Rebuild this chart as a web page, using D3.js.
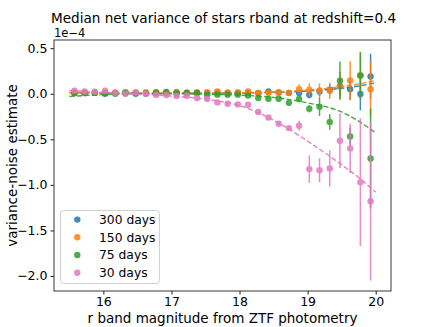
<!DOCTYPE html>
<html><head><meta charset="utf-8">
<script src="https://cdn.jsdelivr.net/npm/d3@7/dist/d3.min.js"></script>
<style>
body{margin:0;background:#fff;}
svg{display:block;font-family:"DejaVu Sans",sans-serif;}
</style></head>
<body><svg id="c" width="436" height="327"></svg>
<script>
const titleText = "Median net variance of stars rband at redshift=0.4";
const xLabel = "r band magnitude from ZTF photometry";
const yLabel = "variance-noise estimate";
const offsetText = "1e\u22124";
const xTicks = [16, 17, 18, 19, 20];
const yTicks = [0.5, 0.0, -0.5, -1.0, -1.5, -2.0];
const seriesNames = ["300 days", "150 days", "75 days", "30 days"];
const seriesColors = ["#1f77b4", "#ff7f0e", "#2ca02c", "#e377c2"];

const mags = [15.575,15.725,15.875,16.025,16.175,16.325,16.475,16.625,16.775,16.925,
  17.075,17.225,17.375,17.525,17.675,17.825,17.975,18.125,18.275,18.425,
  18.575,18.725,18.875,19.025,19.175,19.325,19.475,19.625,19.775,19.925];

const blue300 = [0.005,0.008,0.01,0.005,0.01,0.01,0.008,0.01,0.012,0.008,0.01,0.01,0.012,0.01,0.015,0.01,0.012,0.015,0.01,0.025,0.015,0.01,0.008,-0.011,0.025,0.044,0.08,0.05,-0.003,0.19];
const blueErr = [0.005,0.005,0.005,0.005,0.005,0.005,0.005,0.005,0.005,0.005,0.006,0.006,0.006,0.007,0.007,0.008,0.008,0.009,0.01,0.012,0.014,0.016,0.03,0.04,0.05,0.06,0.1,0.12,0.18,0.25];

const orange150 = [0.015,0.012,0.01,0.012,0.015,0.02,0.015,0.018,0.02,0.015,0.02,0.014,0.014,0.018,0.025,0.014,0.014,0.025,0.008,0.01,0.014,0.008,0.051,0.044,0.033,0.033,0.088,0.146,0.2,0.05];
const orangeErr = [0.005,0.005,0.005,0.005,0.005,0.005,0.005,0.005,0.005,0.005,0.006,0.006,0.006,0.007,0.007,0.008,0.008,0.009,0.01,0.012,0.014,0.016,0.05,0.07,0.08,0.09,0.15,0.21,0.25,0.3];

const green75 = [0.01,0.01,0.01,0.0,0.0,0.005,0.0,0.0,0.01,0.02,0.01,0.008,0.008,-0.01,-0.01,-0.01,-0.01,-0.02,-0.047,-0.055,-0.055,-0.1,-0.058,-0.165,-0.143,-0.31,0.143,-0.47,0.2,-0.71];
const greenErr = [0.005,0.005,0.005,0.005,0.005,0.005,0.005,0.005,0.005,0.005,0.006,0.006,0.006,0.007,0.007,0.008,0.008,0.01,0.015,0.02,0.02,0.03,0.035,0.04,0.1,0.085,0.21,0.1,0.26,0.55];

const pink30 = [0.033,0.025,0.022,0.033,0.008,0.0,0.014,0.0,-0.014,-0.014,-0.025,-0.022,-0.047,-0.055,-0.095,-0.11,-0.117,-0.12,-0.2,-0.26,-0.33,-0.377,-0.35,-0.827,-0.84,-0.82,-0.516,-0.6,-0.97,-1.18];
const pinkErr = [0.005,0.005,0.005,0.005,0.005,0.005,0.005,0.006,0.006,0.006,0.007,0.007,0.008,0.009,0.01,0.012,0.014,0.02,0.02,0.025,0.03,0.03,0.055,0.15,0.13,0.2,0.3,0.27,0.7,0.87];

const fitX = [15.5,16,16.5,17,17.5,18,18.5,19,19.5,19.75,20];
const fitBlue = [0.01,0.008,0.006,0.005,0.005,0.007,0.015,0.03,0.06,0.085,0.12];
const fitOrange = [0.015,0.01,0.007,0.005,0.006,0.01,0.02,0.04,0.08,0.108,0.146];
const fitGreen = [-0.03,-0.01,0.0,0.0,-0.005,-0.015,-0.04,-0.1,-0.2,-0.3,-0.43];
const fitPink = [0.035,0.015,-0.005,-0.025,-0.06,-0.13,-0.29,-0.52,-0.78,-0.92,-1.08];

const seriesVals = [blue300, orange150, green75, pink30];
const seriesErrs = [blueErr, orangeErr, greenErr, pinkErr];
const fits = [fitBlue, fitOrange, fitGreen, fitPink];

const svg = d3.select("#c");
const L = 54, R = 391, T = 40, B = 291;
const x = d3.scaleLinear().domain([15.275, 20.225]).range([L, R]);
const y = d3.scaleLinear().domain([-2.165, 0.59]).range([B, T]);
const fmtY = v => d3.format(".1f")(v).replace("-", "\u2212");

const plot = svg.append("g");
const line = d3.line().x(d => x(d[0])).y(d => y(d[1])).curve(d3.curveMonotoneX);

seriesVals.forEach((vals, si) => {
  const col = seriesColors[si];
  const g = plot.append("g").attr("opacity", 0.85);
  const errs = seriesErrs[si];
  g.selectAll("line.eb").data(mags).join("line")
    .attr("x1", d => x(d)).attr("x2", d => x(d))
    .attr("y1", (d, i) => y(vals[i] + errs[i])).attr("y2", (d, i) => y(vals[i] - errs[i]))
    .attr("stroke", col).attr("stroke-width", 1.5);
  g.selectAll("circle").data(mags).join("circle")
    .attr("cx", d => x(d)).attr("cy", (d, i) => y(vals[i]))
    .attr("r", 3.2).attr("fill", col);
  plot.append("path").datum(fitX.map((fx, i) => [fx, fits[si][i]]))
    .attr("d", line).attr("fill", "none").attr("stroke", col)
    .attr("stroke-width", 1.4).attr("stroke-dasharray", "5.2,2.3").attr("opacity", 0.9);
});

// frame
svg.append("rect").attr("x", L).attr("y", T).attr("width", R - L).attr("height", B - T)
  .attr("fill", "none").attr("stroke", "#222").attr("stroke-width", 0.9);

// x axis
const xa = svg.append("g").attr("transform", `translate(0,${B})`)
  .call(d3.axisBottom(x).tickValues(xTicks).tickSize(3.5).tickPadding(3).tickFormat(d3.format("d")));
xa.select(".domain").remove();
xa.selectAll("text").attr("font-size", 12.5).attr("fill", "#000").attr("font-family", "DejaVu Sans");
xa.selectAll("line").attr("stroke", "#222");

// y axis
const ya = svg.append("g").attr("transform", `translate(${L},0)`)
  .call(d3.axisLeft(y).tickValues(yTicks).tickSize(3.5).tickPadding(3).tickFormat(fmtY));
ya.select(".domain").remove();
ya.selectAll("text").attr("font-size", 12.5).attr("fill", "#000").attr("font-family", "DejaVu Sans");
ya.selectAll("line").attr("stroke", "#222");

// texts
svg.append("text").attr("x", (L + R) / 2 + 1).attr("y", 22.5).attr("text-anchor", "middle")
  .attr("font-size", 13.6).text(titleText);
svg.append("text").attr("x", L).attr("y", 37).attr("font-size", 11.5).text(offsetText);
svg.append("text").attr("x", (L + R) / 2).attr("y", 323).attr("text-anchor", "middle")
  .attr("font-size", 13.5).text(xLabel);
svg.append("text").attr("transform", `translate(17,${(T + B) / 2}) rotate(-90)`)
  .attr("text-anchor", "middle").attr("font-size", 13.5).text(yLabel);

// legend
const lg = svg.append("g");
lg.append("rect").attr("x", 60.5).attr("y", 210.5).attr("width", 99).attr("height", 73)
  .attr("rx", 3).attr("fill", "#fff").attr("fill-opacity", 0.8).attr("stroke", "#d0d0d0");
seriesNames.forEach((nm, i) => {
  const cy = 219.6 + i * 17.7;
  lg.append("circle").attr("cx", 77.3).attr("cy", cy).attr("r", 3.2)
    .attr("fill", seriesColors[i]).attr("opacity", 0.85);
  lg.append("text").attr("x", 99).attr("y", cy + 4.4).attr("font-size", 12.3).text(nm);
});
</script></body></html>
